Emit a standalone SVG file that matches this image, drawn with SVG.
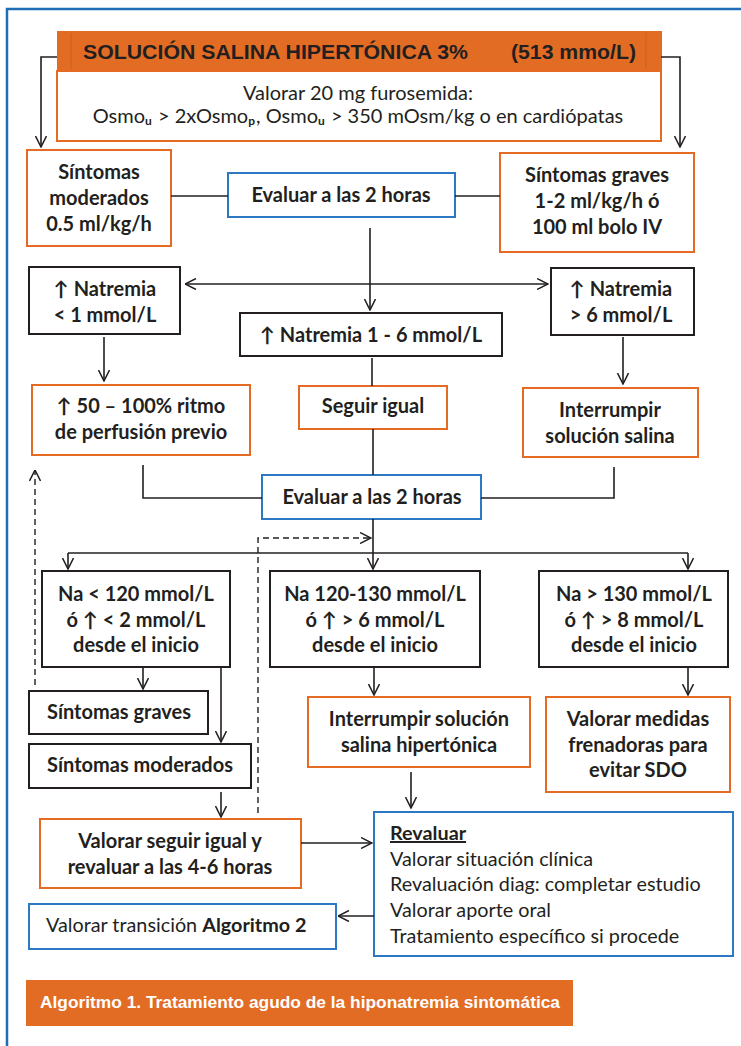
<svg xmlns="http://www.w3.org/2000/svg" width="741" height="1046" viewBox="0 0 741 1046">
  <defs>
    <marker id="arrow" viewBox="0 0 12 12" markerWidth="12" markerHeight="12" refX="11.5" refY="6" orient="auto-start-reverse" markerUnits="userSpaceOnUse">
      <path d="M0.5,0.5 L11.5,6 L0.5,11.5" fill="none" stroke="#231f20" stroke-width="1.5"/>
    </marker>
  </defs>
  <style>
    .frame { fill: none; stroke: #1f6db5; stroke-width: 2.5; }
    .box-o { fill: #ffffff; stroke: #e56b25; stroke-width: 2; }
    .box-b { fill: #ffffff; stroke: #2c78c2; stroke-width: 2; }
    .box-k { fill: #ffffff; stroke: #231f20; stroke-width: 2; }
    .bar { fill: #e36c25; }
    .t { font-family: Lato, "Open Sans", "Liberation Sans", sans-serif; font-size: 20px; fill: #231f20; text-anchor: middle; }
    .b { font-weight: bold; }
    .r { font-family: Lato, "Open Sans", "Liberation Sans", sans-serif; font-size: 19.8px; fill: #231f20; }
    .head { font-family: "Liberation Sans", Arial, sans-serif; font-weight: bold; font-size: 20px; fill: #231f20; }
    .cap { font-family: "Liberation Sans", Arial, sans-serif; font-weight: bold; font-size: 16px; fill: #ffffff; }
    .sub { font-weight: bold; font-size: 12px; }
    .ln { fill: none; stroke: #231f20; stroke-width: 1.6; }
    .arr { fill: none; stroke: #231f20; stroke-width: 1.6; marker-end: url(#arrow); }
    .dash { fill: none; stroke: #231f20; stroke-width: 1.4; stroke-dasharray: 6 4; marker-end: url(#arrow); }
  </style>

  <!-- page frame (open to the right and bottom) -->
  <path class="frame" d="M741,9 H7 V1046"/>

  <!-- header -->
  <g id="header">
    <rect class="bar" x="57" y="31" width="605" height="40"/>
    <line x1="71" y1="33" x2="71" y2="69" stroke="#c95a1a" stroke-width="0.8"/>
    <line x1="646" y1="33" x2="646" y2="69" stroke="#c95a1a" stroke-width="0.8"/>
    <text class="head" x="83" y="59" textLength="385" lengthAdjust="spacingAndGlyphs">SOLUCIÓN SALINA HIPERTÓNICA 3%</text>
    <text class="head" x="511" y="59" textLength="125" lengthAdjust="spacingAndGlyphs">(513 mmo/L)</text>
  </g>

  <g id="furosemida">
    <rect class="box-o" x="57" y="71" width="604" height="70"/>
    <text class="t" x="358" y="100" textLength="230" lengthAdjust="spacingAndGlyphs">Valorar 20 mg furosemida:</text>
    <text class="t" x="358" y="123" font-size="19">Osmo<tspan class="sub" dy="2">u</tspan><tspan dy="-2" dx="1"> &gt; 2xOsmo</tspan><tspan class="sub" dy="2">p</tspan><tspan dy="-2" dx="1">, Osmo</tspan><tspan class="sub" dy="2">u</tspan><tspan dy="-2" dx="1"> &gt; 350 mOsm/kg o en cardiópatas</tspan></text>
  </g>

  <g id="sintomas-moderados-1">
    <rect class="box-o" x="27" y="150" width="144" height="96"/>
    <text class="t b" x="99" y="179">Síntomas</text>
    <text class="t b" x="99" y="205">moderados</text>
    <text class="t b" x="99" y="231">0.5 ml/kg/h</text>
  </g>

  <g id="evaluar-1">
    <rect class="box-b" x="228" y="173" width="227" height="44"/>
    <text class="t b" x="341" y="202">Evaluar a las 2 horas</text>
  </g>

  <g id="sintomas-graves-1">
    <rect class="box-o" x="500" y="153" width="194" height="99"/>
    <text class="t b" x="597" y="182">Síntomas graves</text>
    <text class="t b" x="597" y="208">1-2 ml/kg/h ó</text>
    <text class="t b" x="597" y="234">100 ml bolo IV</text>
  </g>

  <g id="natremia-menor-1">
    <rect class="box-k" x="29" y="267" width="151" height="67"/>
    <text class="t b" x="105" y="296">↑ Natremia</text>
    <text class="t b" x="105" y="322">&lt; 1 mmol/L</text>
  </g>

  <g id="natremia-1-6">
    <rect class="box-k" x="240" y="313" width="262" height="43"/>
    <text class="t b" x="371" y="342">↑ Natremia 1 - 6 mmol/L</text>
  </g>

  <g id="natremia-mayor-6">
    <rect class="box-k" x="551" y="268" width="143" height="67"/>
    <text class="t b" x="621" y="296">↑ Natremia</text>
    <text class="t b" x="621" y="322">&gt; 6 mmol/L</text>
  </g>

  <g id="ritmo-perfusion">
    <rect class="box-o" x="32" y="385" width="218" height="70"/>
    <text class="t b" x="141" y="413">↑ 50 – 100% ritmo</text>
    <text class="t b" x="141" y="439">de perfusión previo</text>
  </g>

  <g id="seguir-igual">
    <rect class="box-o" x="299" y="386" width="148" height="43"/>
    <text class="t b" x="373" y="413">Seguir igual</text>
  </g>

  <g id="interrumpir-1">
    <rect class="box-o" x="523" y="388" width="175" height="69"/>
    <text class="t b" x="610" y="417">Interrumpir</text>
    <text class="t b" x="610" y="443">solución salina</text>
  </g>

  <g id="evaluar-2">
    <rect class="box-b" x="262" y="475" width="219" height="44"/>
    <text class="t b" x="372" y="504">Evaluar a las 2 horas</text>
  </g>

  <g id="na-menor-120">
    <rect class="box-k" x="42" y="571" width="188" height="96"/>
    <text class="t b" x="136" y="601">Na &lt; 120 mmol/L</text>
    <text class="t b" x="136" y="627">ó ↑ &lt; 2 mmol/L</text>
    <text class="t b" x="136" y="652">desde el inicio</text>
  </g>

  <g id="na-120-130">
    <rect class="box-k" x="270" y="571" width="210" height="96"/>
    <text class="t b" x="375" y="601">Na 120-130 mmol/L</text>
    <text class="t b" x="375" y="627">ó ↑ &gt; 6 mmol/L</text>
    <text class="t b" x="375" y="652">desde el inicio</text>
  </g>

  <g id="na-mayor-130">
    <rect class="box-k" x="539" y="571" width="189" height="96"/>
    <text class="t b" x="634" y="601">Na &gt; 130 mmol/L</text>
    <text class="t b" x="634" y="627">ó ↑ &gt; 8 mmol/L</text>
    <text class="t b" x="634" y="652">desde el inicio</text>
  </g>

  <g id="sintomas-graves-2">
    <rect class="box-k" x="29" y="691" width="179" height="43"/>
    <text class="t b" x="119" y="719">Síntomas graves</text>
  </g>

  <g id="sintomas-moderados-2">
    <rect class="box-k" x="29" y="744" width="222" height="44"/>
    <text class="t b" x="140" y="772">Síntomas moderados</text>
  </g>

  <g id="interrumpir-2">
    <rect class="box-o" x="308" y="697" width="222" height="70"/>
    <text class="t b" x="419" y="726">Interrumpir solución</text>
    <text class="t b" x="419" y="752">salina hipertónica</text>
  </g>

  <g id="medidas-frenadoras">
    <rect class="box-o" x="546" y="697" width="184" height="95"/>
    <text class="t b" x="638" y="726">Valorar medidas</text>
    <text class="t b" x="638" y="752">frenadoras para</text>
    <text class="t b" x="638" y="777">evitar SDO</text>
  </g>

  <g id="seguir-revaluar">
    <rect class="box-o" x="40" y="819" width="261" height="69"/>
    <text class="t b" x="170" y="848">Valorar seguir igual y</text>
    <text class="t b" x="170" y="874">revaluar a las 4-6 horas</text>
  </g>

  <g id="revaluar">
    <rect class="box-b" x="374" y="812" width="359" height="144"/>
    <text class="r b" x="390" y="840" text-decoration="underline">Revaluar</text>
    <text class="r" x="390" y="866">Valorar situación clínica</text>
    <text class="r" x="390" y="891">Revaluación diag: completar estudio</text>
    <text class="r" x="390" y="917">Valorar aporte oral</text>
    <text class="r" x="390" y="943">Tratamiento específico si procede</text>
  </g>

  <g id="transicion">
    <rect class="box-b" x="29" y="904" width="307" height="45"/>
    <text class="r" x="46" y="932">Valorar transición <tspan font-weight="bold">Algoritmo 2</tspan></text>
  </g>

  <g id="caption">
    <rect class="bar" x="26" y="980" width="547" height="46"/>
    <text class="cap" x="40" y="1008" textLength="520" lengthAdjust="spacingAndGlyphs">Algoritmo 1. Tratamiento agudo de la hiponatremia sintomática</text>
  </g>

  <g id="connectors">
    <polyline class="arr" points="57,57 41,57 41,147"/>
    <polyline class="arr" points="661,57 680,57 680,147"/>
    <line class="ln" x1="171" y1="196" x2="228" y2="196"/>
    <line class="ln" x1="455" y1="196" x2="500" y2="196"/>
    <line class="arr" x1="370" y1="228" x2="370" y2="310"/>
    <line class="arr" x1="185" y1="284" x2="548" y2="284" marker-start="url(#arrow)"/>
    <line class="arr" x1="104" y1="337" x2="104" y2="381"/>
    <line class="ln" x1="372" y1="358" x2="372" y2="386"/>
    <line class="arr" x1="623" y1="337" x2="623" y2="384"/>
    <polyline class="ln" points="143,465 143,498 262,498"/>
    <polyline class="ln" points="614,467 614,498 481,498"/>
    <line class="ln" x1="373" y1="429" x2="373" y2="475"/>
    <line class="arr" x1="373" y1="519" x2="373" y2="569"/>
    <line class="ln" x1="68" y1="553" x2="688" y2="553"/>
    <line class="arr" x1="68" y1="553" x2="68" y2="569"/>
    <line class="arr" x1="688" y1="553" x2="688" y2="569"/>
    <polyline class="dash" points="258,813 258,538 371,538"/>
    <line class="dash" x1="35" y1="685" x2="35" y2="470"/>
    <line class="arr" x1="143" y1="668" x2="143" y2="689"/>
    <line class="arr" x1="221" y1="667" x2="221" y2="742"/>
    <line class="arr" x1="221" y1="792" x2="221" y2="817"/>
    <line class="arr" x1="374" y1="668" x2="374" y2="695"/>
    <line class="arr" x1="688" y1="668" x2="688" y2="695"/>
    <line class="arr" x1="411" y1="772" x2="411" y2="808"/>
    <line class="arr" x1="301" y1="843" x2="372" y2="843"/>
    <line class="arr" x1="374" y1="916" x2="338" y2="916"/>
  </g>
</svg>
